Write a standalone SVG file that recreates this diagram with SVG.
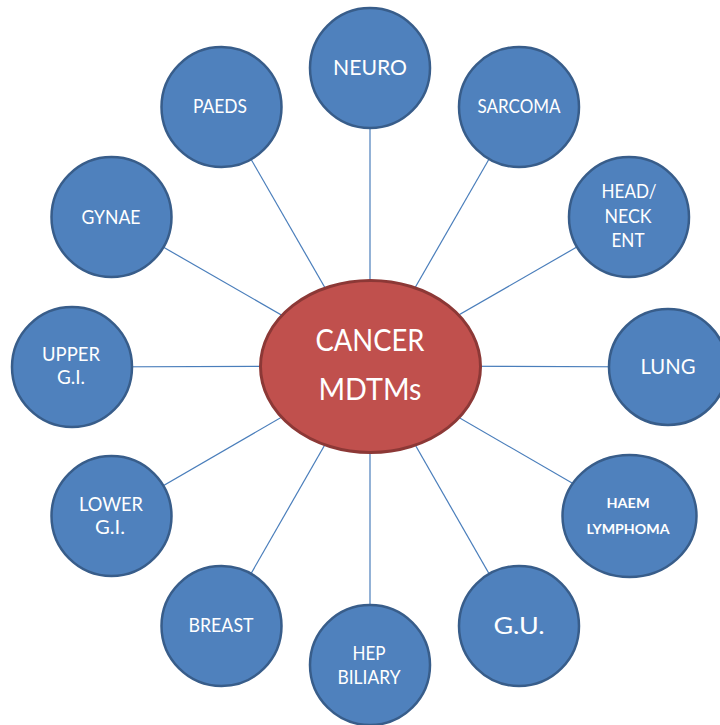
<svg xmlns="http://www.w3.org/2000/svg" width="720" height="725" viewBox="0 0 720 725">
  <style>
    .hub { fill: #C0504D; stroke: #8C3836; stroke-width: 3; }
    .spoke { fill: #4F81BD; stroke: #385D8A; stroke-width: 2.5; }
    .link { stroke: #4A7EBB; stroke-width: 1.2; fill: none; }
    text { font-family: Lato, "Open Sans", "Liberation Sans", sans-serif; fill: #FFFFFF; text-anchor: middle; }
    .t { font-size: 18.5px; }
    .big { font-size: 22px; }
    .gu { font-size: 24px; }
    .hubt { font-size: 31px; }
    .bold { font-size: 13.5px; font-weight: bold; }
  </style>

  <!-- connectors from the hub to every team -->
  <g id="connectors">
    <line class="link" x1="370" y1="366" x2="370" y2="68"/>
    <line class="link" x1="370" y1="366" x2="519" y2="107"/>
    <line class="link" x1="370" y1="366" x2="629" y2="217"/>
    <line class="link" x1="370" y1="366" x2="668" y2="367"/>
    <line class="link" x1="370" y1="366" x2="629" y2="516"/>
    <line class="link" x1="370" y1="366" x2="519" y2="626"/>
    <line class="link" x1="370" y1="366" x2="370" y2="665"/>
    <line class="link" x1="370" y1="366" x2="221" y2="626"/>
    <line class="link" x1="370" y1="366" x2="111" y2="516"/>
    <line class="link" x1="370" y1="366" x2="72" y2="367"/>
    <line class="link" x1="370" y1="366" x2="111" y2="217"/>
    <line class="link" x1="370" y1="366" x2="221" y2="107"/>
  </g>

  <g id="hub">
    <ellipse class="hub" cx="370.5" cy="366.5" rx="110" ry="86"/>
    <text class="hubt" x="370" y="351" textLength="109" lengthAdjust="spacingAndGlyphs">CANCER</text>
    <text class="hubt" x="370" y="400" textLength="103" lengthAdjust="spacingAndGlyphs">MDTMs</text>
  </g>

  <g id="neuro">
    <circle class="spoke" cx="370" cy="68" r="60"/>
    <text class="big" x="370" y="75" textLength="74" lengthAdjust="spacingAndGlyphs">NEURO</text>
  </g>

  <g id="sarcoma">
    <circle class="spoke" cx="519" cy="107" r="60"/>
    <text class="t" x="519" y="113" textLength="83" lengthAdjust="spacingAndGlyphs">SARCOMA</text>
  </g>

  <g id="head-neck-ent">
    <circle class="spoke" cx="629" cy="217" r="60"/>
    <text class="t" x="629" y="198" textLength="55" lengthAdjust="spacingAndGlyphs">HEAD/</text>
    <text class="t" x="628" y="223" textLength="47" lengthAdjust="spacingAndGlyphs">NECK</text>
    <text class="t" x="628" y="247" textLength="33" lengthAdjust="spacingAndGlyphs">ENT</text>
  </g>

  <g id="lung">
    <ellipse class="spoke" cx="668" cy="367" rx="59" ry="58"/>
    <text class="big" x="668" y="374" textLength="55" lengthAdjust="spacingAndGlyphs">LUNG</text>
  </g>

  <g id="haem-lymphoma">
    <ellipse class="spoke" cx="629.5" cy="516" rx="67" ry="61"/>
    <text class="bold" x="628" y="508" textLength="43" lengthAdjust="spacingAndGlyphs">HAEM</text>
    <text class="bold" x="628" y="534" textLength="83" lengthAdjust="spacingAndGlyphs">LYMPHOMA</text>
  </g>

  <g id="gu">
    <circle class="spoke" cx="519" cy="626" r="60"/>
    <text class="gu" x="519" y="634" textLength="51" lengthAdjust="spacingAndGlyphs">G.U.</text>
  </g>

  <g id="hep-biliary">
    <circle class="spoke" cx="370" cy="665" r="60"/>
    <text class="t" x="369" y="660" textLength="33" lengthAdjust="spacingAndGlyphs">HEP</text>
    <text class="t" x="369" y="684" textLength="63" lengthAdjust="spacingAndGlyphs">BILIARY</text>
  </g>

  <g id="breast">
    <circle class="spoke" cx="221.5" cy="626" r="60"/>
    <text class="t" x="221" y="632" textLength="65" lengthAdjust="spacingAndGlyphs">BREAST</text>
  </g>

  <g id="lower-gi">
    <circle class="spoke" cx="111.5" cy="516" r="60"/>
    <text class="t" x="111" y="511" textLength="64" lengthAdjust="spacingAndGlyphs">LOWER</text>
    <text class="t" x="110" y="534" textLength="30" lengthAdjust="spacingAndGlyphs">G.I.</text>
  </g>

  <g id="upper-gi">
    <circle class="spoke" cx="72" cy="367" r="60"/>
    <text class="t" x="71" y="361" textLength="58" lengthAdjust="spacingAndGlyphs">UPPER</text>
    <text class="t" x="71" y="384" textLength="28" lengthAdjust="spacingAndGlyphs">G.I.</text>
  </g>

  <g id="gynae">
    <circle class="spoke" cx="111.5" cy="217" r="60"/>
    <text class="t" x="111" y="224" textLength="59" lengthAdjust="spacingAndGlyphs">GYNAE</text>
  </g>

  <g id="paeds">
    <circle class="spoke" cx="221.5" cy="107" r="60"/>
    <text class="t" x="220" y="113" textLength="54" lengthAdjust="spacingAndGlyphs">PAEDS</text>
  </g>
</svg>
